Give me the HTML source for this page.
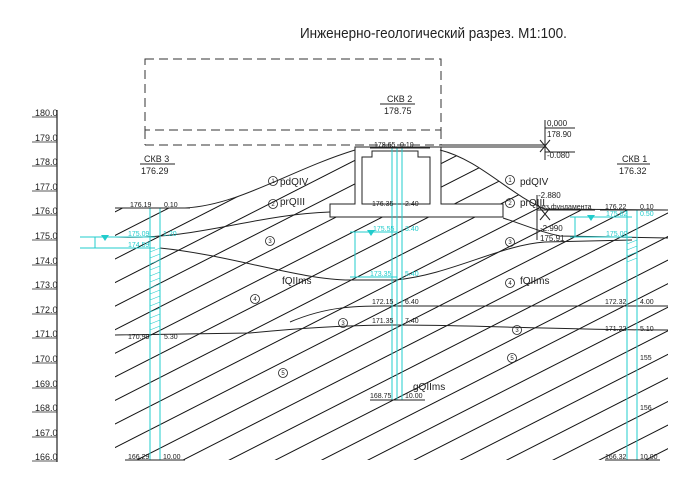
<!DOCTYPE html>
<html><head><meta charset="utf-8"><style>
html,body{margin:0;padding:0;background:#fff;}
svg{display:block}
text{font-family:"Liberation Sans","DejaVu Sans",sans-serif;}
</style></head><body>
<svg width="700" height="486" viewBox="0 0 700 486" xmlns="http://www.w3.org/2000/svg">
<defs>
<pattern id="h" patternUnits="userSpaceOnUse" width="22" height="21" patternTransform="rotate(-27)">
<line x1="0" y1="10" x2="22" y2="10" stroke="#111" stroke-width="0.9"/>
</pattern>
<clipPath id="g"><path d="M115,208 L185,208 C240,205 290,170 355,150 L440,150 C480,160 510,195 545,209 L668,210 L668,460 L115,460 Z"/></clipPath>
</defs>
<text x="300" y="38" font-size="15" fill="#222" transform="translate(300 0) scale(0.9 1) translate(-300 0)">Инженерно-геологический разрез. М1:100.</text>

<!-- scale -->
<line x1="57" y1="110" x2="57" y2="462" stroke="#222" stroke-width="1.2"/>
<g font-size="9" fill="#222" stroke="#222" stroke-width="0.8">
<line x1="32" y1="117" x2="57" y2="117"/><line x1="32" y1="142" x2="57" y2="142"/><line x1="32" y1="166" x2="57" y2="166"/><line x1="32" y1="191" x2="57" y2="191"/><line x1="32" y1="215" x2="57" y2="215"/><line x1="32" y1="240" x2="57" y2="240"/><line x1="32" y1="265" x2="57" y2="265"/><line x1="32" y1="289" x2="57" y2="289"/><line x1="32" y1="314" x2="57" y2="314"/><line x1="32" y1="338" x2="57" y2="338"/><line x1="32" y1="363" x2="57" y2="363"/><line x1="32" y1="388" x2="57" y2="388"/><line x1="32" y1="412" x2="57" y2="412"/><line x1="32" y1="437" x2="57" y2="437"/><line x1="32" y1="461" x2="57" y2="461"/>
</g>
<g font-size="9" fill="#222">
<text x="35" y="116">180.0</text><text x="35" y="141">179.0</text><text x="35" y="165">178.0</text><text x="35" y="190">177.0</text><text x="35" y="214">176.0</text><text x="35" y="239">175.0</text><text x="35" y="264">174.0</text><text x="35" y="288">173.0</text><text x="35" y="313">172.0</text><text x="35" y="337">171.0</text><text x="35" y="362">170.0</text><text x="35" y="387">169.0</text><text x="35" y="411">168.0</text><text x="35" y="436">167.0</text><text x="35" y="460">166.0</text>
</g>

<!-- dashed rect -->
<g stroke="#333" stroke-width="1" fill="none" stroke-dasharray="9,5">
<rect x="145" y="59" width="296" height="71"/>
<line x1="145" y1="145" x2="441" y2="145"/>
<line x1="145" y1="130" x2="145" y2="145"/><line x1="441" y1="130" x2="441" y2="145"/>
</g>

<!-- hatching -->
<rect x="100" y="140" width="580" height="330" fill="url(#h)" clip-path="url(#g)"/>
<rect x="355" y="147" width="86" height="58" fill="#fff"/>
<rect x="330" y="204" width="173" height="13" fill="#fff"/>

<g fill="none" stroke="#222" stroke-width="1">
<path d="M115,208 L185,208 C240,205 290,170 355,150"/>
<path d="M440,150 C480,160 510,195 545,209 L668,210"/>
<path d="M115,237 C200,240 250,215 330,212"/>
<path d="M503,218 C525,225 540,232 560,236 L668,238"/>
<path d="M160,248 C230,255 300,280 350,280 L395,280 C450,275 500,245 545,242 L632,240"/>
<path d="M290,322 C330,305 360,306 395,306 L668,306"/>
<path d="M115,335 L250,333 C300,328 350,325 395,325 C480,325 560,330 668,330"/>
<path d="M355,147 L441,147 L441,204 L503,204 L503,217 L330,217 L330,204 L355,204 Z"/>
<path d="M362,157 L372,157 L372,151 L418,151 L418,157 L430,157 L430,204 L362,204 Z"/>
<line x1="441" y1="145" x2="545" y2="145"/><line x1="441" y1="147" x2="545" y2="147"/>
<line x1="545" y1="120" x2="545" y2="160"/>
<path d="M540,140 L550,152 M550,140 L540,152"/>
<path d="M540,208 L550,220 M550,208 L540,220"/>
<line x1="537" y1="195" x2="537" y2="240"/>
<line x1="545" y1="128" x2="575" y2="128"/><line x1="545" y1="152" x2="575" y2="152"/>
<line x1="537" y1="210" x2="595" y2="210"/>
</g>
<g font-size="8" fill="#222">
<text x="547" y="126">0,000</text><text x="547" y="137">178.90</text><text x="547" y="158">-0.080</text>
<text x="538" y="198">-2.880</text><text x="538" y="209" font-size="7">низ фундамента</text>
<text x="540" y="231">-2.990</text><text x="540" y="241">175.91</text>
</g>

<g stroke="#2cc" stroke-width="1" fill="none">
<line x1="150" y1="208" x2="150" y2="460"/><line x1="160" y1="208" x2="160" y2="460"/>
<line x1="392" y1="148" x2="392" y2="400"/><line x1="402" y1="148" x2="402" y2="400"/><line x1="397" y1="148" x2="397" y2="400"/>
<line x1="627" y1="210" x2="627" y2="460"/><line x1="637" y1="210" x2="637" y2="460"/>
<line x1="80" y1="237" x2="155" y2="237"/><line x1="80" y1="248" x2="155" y2="248"/><line x1="95" y1="237" x2="95" y2="248"/>
<line x1="350" y1="232" x2="397" y2="232"/><line x1="350" y1="277" x2="397" y2="277"/><line x1="355" y1="232" x2="355" y2="277"/>
<line x1="570" y1="217" x2="632" y2="217"/><line x1="570" y1="237" x2="632" y2="237"/><line x1="575" y1="217" x2="575" y2="237"/>
</g>
<g stroke="#2cc" stroke-width="0.6">
<path d="M150,252 L160,248 M150,258 L160,254 M150,264 L160,260 M150,270 L160,266 M150,276 L160,272 M150,282 L160,278 M150,288 L160,284 M150,294 L160,290 M150,300 L160,296 M150,306 L160,302 M150,312 L160,308 M150,318 L160,314 M150,324 L160,320 M150,330 L160,326"/>
<path d="M627,244 L637,240 M627,250 L637,246 M627,256 L637,252 M627,262 L637,258"/>
</g>
<g fill="#2cc"><path d="M101,235 L109,235 L105,241Z"/><path d="M367,230 L375,230 L371,236Z"/><path d="M587,215 L595,215 L591,221Z"/></g>
<g font-size="7" fill="#2cc"><text x="128" y="236">175.09</text><text x="128" y="247">174.59</text><text x="163" y="236">1.20</text><text x="373" y="231">175.55</text><text x="405" y="231">3.40</text><text x="370" y="276">173.35</text><text x="405" y="276">5.40</text><text x="606" y="216">175.82</text><text x="640" y="216">0.50</text><text x="606" y="236">175.00</text></g>

<g stroke="#222" stroke-width="1">
<line x1="115" y1="208" x2="190" y2="208"/><line x1="370" y1="148" x2="430" y2="148"/><line x1="600" y1="210" x2="668" y2="210"/>
<line x1="125" y1="460" x2="185" y2="460"/><line x1="370" y1="400" x2="425" y2="400"/><line x1="605" y1="460" x2="660" y2="460"/>
<line x1="140" y1="164" x2="175" y2="164"/><line x1="380" y1="104" x2="415" y2="104"/><line x1="617" y1="164" x2="650" y2="164"/>
</g>
<g font-size="9" fill="#222">
<text x="144" y="162">СКВ 3</text><text x="141" y="174">176.29</text>
<text x="387" y="102">СКВ 2</text><text x="384" y="114">178.75</text>
<text x="622" y="162">СКВ 1</text><text x="619" y="174">176.32</text>
</g>
<g font-size="7" fill="#222">
<text x="130" y="207">176.19</text><text x="164" y="207">0.10</text>
<text x="374" y="147">178.65</text><text x="400" y="147">0.10</text>
<text x="372" y="206">176.35</text><text x="405" y="206">2.40</text>
<text x="605" y="209">176.22</text><text x="640" y="209">0.10</text>
<text x="372" y="304">172.15</text><text x="405" y="304">6.40</text>
<text x="372" y="323">171.35</text><text x="405" y="323">7.40</text>
<text x="605" y="304">172.32</text><text x="640" y="304">4.00</text>
<text x="605" y="331">171.22</text><text x="640" y="331">5.10</text>
<text x="128" y="339">170.99</text><text x="164" y="339">5.30</text>
<text x="370" y="398">168.75</text><text x="405" y="398">10.00</text>
<text x="128" y="459">166.29</text><text x="163" y="459">10.00</text>
<text x="605" y="459">166.32</text><text x="640" y="459">10.00</text>
<text x="640" y="360">155</text><text x="640" y="410">156</text>
</g>
<g font-size="10" fill="#222">
<text x="280" y="185">pdQIV</text><text x="280" y="205">prQIII</text><text x="282" y="284">fQIIms</text>
<text x="520" y="185">pdQIV</text><text x="520" y="206">prQIII</text><text x="520" y="284">fQIIms</text>
<text x="413" y="390">gQIIms</text>
</g>
<g fill="none" stroke="#222" stroke-width="0.8">
<circle cx="273" cy="181" r="4.5"/><circle cx="273" cy="204" r="4.5"/><circle cx="270" cy="241" r="4.5"/><circle cx="255" cy="299" r="4.5"/><circle cx="343" cy="323" r="4.5"/><circle cx="283" cy="373" r="4.5"/>
<circle cx="510" cy="180" r="4.5"/><circle cx="510" cy="203" r="4.5"/><circle cx="510" cy="242" r="4.5"/><circle cx="510" cy="283" r="4.5"/><circle cx="517" cy="330" r="4.5"/><circle cx="512" cy="358" r="4.5"/>
</g>
<g font-size="6" fill="#222" text-anchor="middle">
<text x="273" y="183">1</text><text x="273" y="206">2</text><text x="270" y="243">3</text><text x="255" y="301">4</text><text x="343" y="325">3</text><text x="283" y="375">5</text>
<text x="510" y="182">1</text><text x="510" y="205">2</text><text x="510" y="244">3</text><text x="510" y="285">4</text><text x="517" y="332">3</text><text x="512" y="360">5</text>
</g>
</svg>
</body></html>
